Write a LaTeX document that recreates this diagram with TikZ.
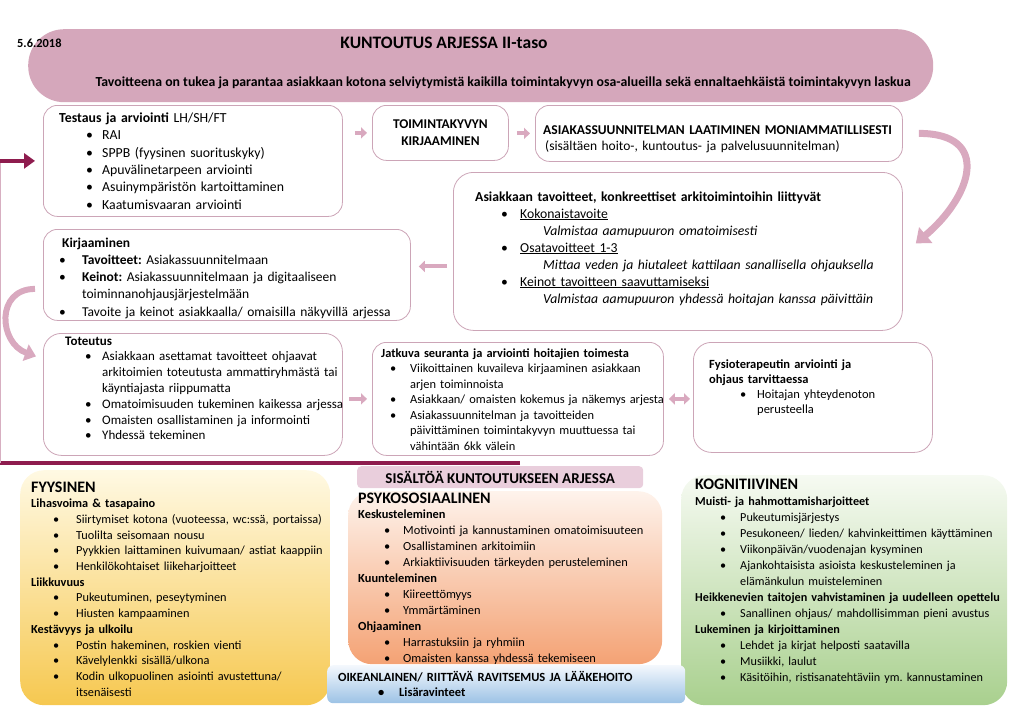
\documentclass[tikz,border=0pt]{standalone}
\usepackage{fontspec}
\setmainfont{Carlito}
\usepackage{tikz}
\usetikzlibrary{arrows.meta, positioning, calc}
\definecolor{RehabMauve}{HTML}{D5A7BB}
\definecolor{RehabLine}{HTML}{CCA5B7}
\definecolor{RehabArrow}{HTML}{D9A9BF}
\definecolor{RehabMaroon}{HTML}{8E1C4E}
\definecolor{RehabTag}{HTML}{E9CEDC}
\definecolor{YellowTop}{HTML}{FFF9E3}
\definecolor{YellowBot}{HTML}{F6C850}
\definecolor{OrangeTop}{HTML}{FEF3EC}
\definecolor{OrangeBot}{HTML}{F4A274}
\definecolor{GreenTop}{HTML}{F6FAF2}
\definecolor{GreenBot}{HTML}{A9D08E}
\definecolor{BlueTop}{HTML}{F4F8FD}
\definecolor{BlueBot}{HTML}{9CC2E5}

\newlength{\bulin}
\newlength{\bulgap}
\newcommand{\bl}{\hspace*{\bulin}\makebox[\bulgap][l]{\textbullet}}
\newcommand{\ct}{\hspace*{\bulin}\hspace*{\bulgap}}
\newcommand{\fsz}[2]{\fontsize{#1}{#2}\selectfont}
\frenchspacing

\tikzset{
  frame/.style={draw=RehabLine, line width=0.8pt, rounded corners=14pt, fill=white, anchor=north west, inner sep=0pt},
  panel/.style={rounded corners=24pt, anchor=north west, inner sep=0pt},
  txt/.style={anchor=base west, align=left, text width=430pt, inner sep=0pt},
  bullets/.style 2 args={execute at begin node={\frenchspacing\setlength{\bulin}{#1}\setlength{\bulgap}{#2}}},
  flow/.style={RehabArrow, line width=4pt, -{Triangle[length=6pt,width=11pt]}},
  turn/.style={RehabArrow, line width=7pt, -{Triangle[length=13pt,width=20pt]}}
}

\begin{document}
\begin{tikzpicture}[x=1pt, y=-1pt]
\useasboundingbox (0,0) rectangle (1023,717);

% header
\node[fill=RehabMauve, rounded corners=36pt, minimum width=905pt, minimum height=73pt, anchor=north west, inner sep=0pt] (banner) at (28,29) {};
\node[anchor=base west, inner sep=0pt, font=\fsz{12.4}{14}\bfseries] (date) at (17,48) {5.6.2018};
\node[anchor=base, inner sep=0pt, font=\fsz{17.5}{20}\bfseries] (title) at (444,49) {KUNTOUTUS ARJESSA II-taso};
\node[anchor=base, inner sep=0pt, font=\fsz{13.8}{16}\bfseries] (aim) at (503,86) {Tavoitteena on tukea ja parantaa asiakkaan kotona selviytymistä kaikilla toimintakyvyn osa-alueilla sekä ennaltaehkäistä toimintakyvyn laskua};

% process boxes
\node[frame, minimum width=299pt, minimum height=111pt] (test) at (43,105) {};
\node[frame, minimum width=136pt, minimum height=55pt, align=center, font=\fsz{13.4}{17}\bfseries] (toim) at (372,105) {TOIMINTAKYVYN\\KIRJAAMINEN};
\node[frame, minimum width=367pt, minimum height=56pt] (plan) at (535,105) {};
\node[frame, minimum width=449pt, minimum height=158pt, rounded corners=20pt] (goals) at (453,172) {};
\node[frame, minimum width=367pt, minimum height=91pt] (kirj) at (43,229) {};
\node[frame, minimum width=299pt, minimum height=122pt, rounded corners=18pt] (tot) at (43,333) {};
\node[frame, minimum width=291pt, minimum height=113pt] (jat) at (372,342) {};
\node[frame, minimum width=239pt, minimum height=110pt, rounded corners=18pt] (fys) at (693,342) {};

\node[txt, bullets={27pt}{16pt}, font=\fsz{13.8}{17.5}] (testtxt) at ($(test.north west)+(16,17)$) {%
\textbf{Testaus ja arviointi} LH/SH/FT\\
\bl RAI\\
\bl SPPB (fyysinen suorituskyky)\\
\bl Apuvälinetarpeen arviointi\\
\bl Asuinympäristön kartoittaminen\\
\bl Kaatumisvaaran arviointi};
\node[txt, font=\fsz{13.5}{17}] (plantxt) at ($(plan.north west)+(8,29)$) {%
\textbf{ASIAKASSUUNNITELMAN LAATIMINEN MONIAMMATILLISESTI}\\
\hspace*{2pt}(sisältäen hoito-, kuntoutus- ja palvelusuunnitelman)};
\node[txt, bullets={26pt}{19pt}, font=\fsz{13.7}{17}] (goalstxt) at ($(goals.north west)+(22,29)$) {%
\textbf{Asiakkaan tavoitteet, konkreettiset arkitoimintoihin liittyvät}\\
\bl\underline{Kokonaistavoite}\\
\ct\hspace*{23pt}\textit{Valmistaa aamupuuron omatoimisesti}\\
\bl\underline{Osatavoitteet 1-3}\\
\ct\hspace*{23pt}\textit{Mittaa veden ja hiutaleet kattilaan sanallisella ohjauksella}\\
\bl\underline{Keinot tavoitteen saavuttamiseksi}\\
\ct\hspace*{23pt}\textit{Valmistaa aamupuuron yhdessä hoitajan kanssa päivittäin}};
\node[txt, bullets={-3pt}{23pt}, font=\fsz{13.5}{17.3}] (kirjtxt) at ($(kirj.north west)+(19,18)$) {%
\textbf{Kirjaaminen}\\
\bl\textbf{Tavoitteet:} Asiakassuunnitelmaan\\
\bl\textbf{Keinot:} Asiakassuunnitelmaan ja digitaaliseen\\
\ct toiminnanohjausjärjestelmään\\
\bl Tavoite ja keinot asiakkaalla/ omaisilla näkyvillä arjessa};
\node[txt, bullets={20pt}{17pt}, font=\fsz{13}{15.8}] (tottxt) at ($(tot.north west)+(22,12)$) {%
\textbf{Toteutus}\\
\bl Asiakkaan asettamat tavoitteet ohjaavat\\
\ct arkitoimien toteutusta ammattiryhmästä tai\\
\ct käyntiajasta riippumatta\\
\bl Omatoimisuuden tukeminen kaikessa arjessa\\
\bl Omaisten osallistaminen ja informointi\\
\bl Yhdessä tekeminen};
\node[txt, bullets={9pt}{20pt}, font=\fsz{12.4}{15.5}] (jattxt) at ($(jat.north west)+(9,15)$) {%
\textbf{Jatkuva seuranta ja arviointi hoitajien toimesta}\\
\bl Viikoittainen kuvaileva kirjaaminen asiakkaan\\
\ct arjen toiminnoista\\
\bl Asiakkaan/ omaisten kokemus ja näkemys arjesta\\
\bl Asiakassuunnitelman ja tavoitteiden\\
\ct päivittäminen toimintakyvyn muuttuessa tai\\
\ct vähintään 6kk välein};
\node[txt, bullets={31pt}{17pt}, font=\fsz{12.5}{15.3}] (fystxt) at ($(fys.north west)+(16,26)$) {%
\textbf{Fysioterapeutin arviointi ja}\\
\textbf{ohjaus tarvittaessa}\\
\bl Hoitajan yhteydenoton\\
\ct perusteella};

% flow arrows
\draw[flow] ([xshift=12pt]test.east |- toim.west) -- ([xshift=-5pt]toim.west);
\draw[flow] ([xshift=8pt]toim.east |- plan.west) -- ([xshift=-5pt]plan.west);
\draw[flow] ([xshift=-6pt, yshift=-15pt]goals.west) -- ([xshift=8pt, yshift=-15pt]goals.west -| kirj.east);
\draw[flow] ([xshift=6pt]tot.east |- jat.west) -- ([xshift=-5pt]jat.west);
\draw[flow, {Triangle[length=6pt,width=11pt]}-{Triangle[length=6pt,width=11pt]}] ([xshift=5pt]jat.east) -- ([xshift=-3pt]jat.east -| fys.west);
\draw[turn] ([xshift=16pt]plan.east) to[out=0, in=40, looseness=1.7] ([xshift=13pt, yshift=8pt]goals.east);
\draw[turn, line width=6pt, -{Triangle[length=11pt,width=17pt]}] ([xshift=-8pt, yshift=-14pt]kirj.west) to[out=180, in=160, looseness=1.5] ([xshift=-7pt, yshift=38pt]tot.west);

% feedback loop
\coordinate (loopR) at (520,463);
\coordinate (loopL) at (0,463);
\draw[RehabMaroon, line width=4pt] (loopR) -- (loopL);
\draw[RehabMaroon!35, line width=1pt] ([xshift=0.5pt]loopL) -- ([xshift=0.5pt]loopL |- test.west);
\draw[RehabMaroon, line width=4.5pt, -{Triangle[length=11pt,width=15pt]}] (loopL |- test.west) -- ([xshift=-8pt]test.west);

% content panels
\node[fill=RehabTag, rounded corners=4pt, minimum width=286pt, minimum height=22pt, anchor=north west, inner sep=0pt, font=\fsz{15}{17}\bfseries] (tag) at (357,466) {SISÄLTÖÄ KUNTOUTUKSEEN ARJESSA};
\node[panel, top color=YellowTop, bottom color=YellowBot, minimum width=310pt, minimum height=235pt] (phys) at (20,470) {};
\node[panel, top color=OrangeTop, bottom color=OrangeBot, minimum width=314pt, minimum height=173pt] (psy) at (348,491) {};
\node[panel, top color=GreenTop, bottom color=GreenBot, minimum width=326pt, minimum height=230pt] (cog) at (681,475) {};
\node[panel, rounded corners=6pt, top color=BlueTop, bottom color=BlueBot, minimum width=358pt, minimum height=38pt] (food) at (327,665) {};

\node[txt, bullets={22pt}{23pt}, font=\fsz{12.3}{15.7}] (physhead) at ($(phys.north west)+(11,22)$) {%
{\fsz{16}{15.7}\bfseries FYYSINEN}\\
\textbf{Lihasvoima \& tasapaino}\\
\bl Siirtymiset kotona (vuoteessa, wc:ssä, portaissa)\\
\bl Tuolilta seisomaan nousu\\
\bl Pyykkien laittaminen kuivumaan/ astiat kaappiin\\
\bl Henkilökohtaiset liikeharjoitteet\\
\textbf{Liikkuvuus}\\
\bl Pukeutuminen, peseytyminen\\
\bl Hiusten kampaaminen\\
\textbf{Kestävyys ja ulkoilu}\\
\bl Postin hakeminen, roskien vienti\\
\bl Kävelylenkki sisällä/ulkona\\
\bl Kodin ulkopuolinen asiointi avustettuna/\\
\ct itsenäisesti};
\node[txt, bullets={26pt}{19pt}, font=\fsz{12.4}{15.9}] (psyhead) at ($(psy.north west)+(10,12)$) {%
{\fsz{16}{15.9}\bfseries PSYKOSOSIAALINEN}\\
\textbf{Keskusteleminen}\\
\bl Motivointi ja kannustaminen omatoimisuuteen\\
\bl Osallistaminen arkitoimiin\\
\bl Arkiaktiivisuuden tärkeyden perusteleminen\\
\textbf{Kuunteleminen}\\
\bl Kiireettömyys\\
\bl Ymmärtäminen\\
\textbf{Ohjaaminen}\\
\bl Harrastuksiin ja ryhmiin\\
\bl Omaisten kanssa yhdessä tekemiseen};
\node[txt, bullets={25pt}{20pt}, font=\fsz{12.2}{16}] (coghead) at ($(cog.north west)+(14,14)$) {%
{\fsz{16}{16}\bfseries KOGNITIIVINEN}\\
\textbf{Muisti- ja hahmottamisharjoitteet}\\
\bl Pukeutumisjärjestys\\
\bl Pesukoneen/ lieden/ kahvinkeittimen käyttäminen\\
\bl Viikonpäivän/vuodenajan kysyminen\\
\bl Ajankohtaisista asioista keskusteleminen ja\\
\ct elämänkulun muisteleminen\\
\textbf{Heikkenevien taitojen vahvistaminen ja uudelleen opettelu}\\
\bl Sanallinen ohjaus/ mahdollisimman pieni avustus\\
\textbf{Lukeminen ja kirjoittaminen}\\
\bl Lehdet ja kirjat helposti saatavilla\\
\bl Musiikki, laulut\\
\bl Käsitöihin, ristisanatehtäviin ym. kannustaminen};
\node[txt, bullets={40pt}{21pt}, font=\fsz{12.5}{15}\bfseries] (foodtxt) at ($(food.north west)+(11,16)$) {%
OIKEANLAINEN/ RIITTÄVÄ RAVITSEMUS JA LÄÄKEHOITO\\
\bl Lisäravinteet};
\end{tikzpicture}
\end{document}
